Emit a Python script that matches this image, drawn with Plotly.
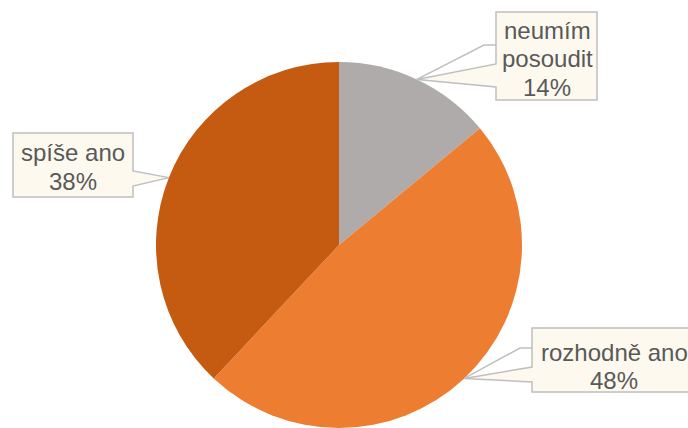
import math
import plotly.graph_objects as go

W, H = 688, 428

labels = ["neumím posoudit", "rozhodně ano", "spíše ano"]
label_lines = [["neumím", "posoudit"], ["rozhodně ano"], ["spíše ano"]]
values = [14, 48, 38]
colors = ["#AFABAB", "#ED7D31", "#C55A11"]

# pie placement (pixels)
CX, CY, R = 339, 245, 183

fig = go.Figure(go.Pie(
    labels=labels, values=values, sort=False, direction="clockwise", rotation=0,
    marker=dict(colors=colors, line=dict(width=0)),
    textinfo="none", hoverinfo="label+percent", showlegend=False,
    domain=dict(x=[(CX - R) / W, (CX + R) / W], y=[0, 2 * R / H]),
))

def px(x, y):
    return x / W, 1 - y / H

def path(pts, close=True):
    s = ""
    for i, (x, y) in enumerate(pts):
        xp, yp = px(x, y)
        s += ("M" if i == 0 else "L") + f"{xp:.5f},{yp:.5f} "
    return s + ("Z" if close else "")

# tip points on pie edge at slice mid-angles (computed from data)
total = sum(values)
tips = []
cum = 0
for v in values:
    mid = (cum + v / 2) / total * 2 * math.pi
    tips.append((CX + R * math.sin(mid), CY - R * math.cos(mid)))
    cum += v

# callout boxes: (x0, y0, x1, y1), wedge side, wedge ys, leader elbow, text center
boxes = [
    dict(box=(496, 12, 597, 100), side="left", wy=(64, 87), elbow=(484, 45), tc=(547, 59)),
    dict(box=(532, 328, 692, 392), side="left", wy=(367, 382), elbow=(520, 348), tc=(614, 366)),
    dict(box=(13, 133, 133, 197), side="right", wy=(171, 186), elbow=None, tc=(73, 167)),
]

FILL = "#FEF9EE"
BORDER = "#BFBFBF"
LINE_H = 28
shapes = []
annotations = []
for i, b in enumerate(boxes):
    x0, y0, x1, y1 = b["box"]
    tx, ty = tips[i]
    wa, wb = b["wy"]
    if b["side"] == "left":
        pts = [(x0, y0), (x1, y0), (x1, y1), (x0, y1), (x0, wb), (tx, ty), (x0, wa)]
    else:
        pts = [(x0, y0), (x1, y0), (x1, wa), (tx, ty), (x1, wb), (x1, y1), (x0, y1)]
    shapes.append(dict(type="path", xref="paper", yref="paper", path=path(pts),
                       fillcolor=FILL, line=dict(color=BORDER, width=1.5), layer="above"))
    if b["elbow"]:
        ex, ey = b["elbow"]
        shapes.append(dict(type="path", xref="paper", yref="paper",
                           path=path([(tx, ty), (ex, ey), (x0, ey)], close=False),
                           line=dict(color=BORDER, width=1.5), layer="above"))
    lines = label_lines[i] + [f"{values[i]}%"]
    n = len(lines)
    tcx, tcy = b["tc"]
    for k, line in enumerate(lines):
        xp, yp = px(tcx, tcy + (k - (n - 1) / 2) * LINE_H)
        annotations.append(dict(
            x=xp, y=yp, xref="paper", yref="paper", showarrow=False,
            text=line, xanchor="center", yanchor="middle",
            font=dict(family="Liberation Sans, Arial, sans-serif", size=24, color="#595959"),
        ))

fig.update_layout(
    width=W, height=H, margin=dict(l=0, r=0, t=0, b=0),
    paper_bgcolor="white", plot_bgcolor="white",
    shapes=shapes, annotations=annotations,
)
fig.write_html("out.html", config={"displayModeBar": False},
               post_script="document.body.style.margin='0';")
